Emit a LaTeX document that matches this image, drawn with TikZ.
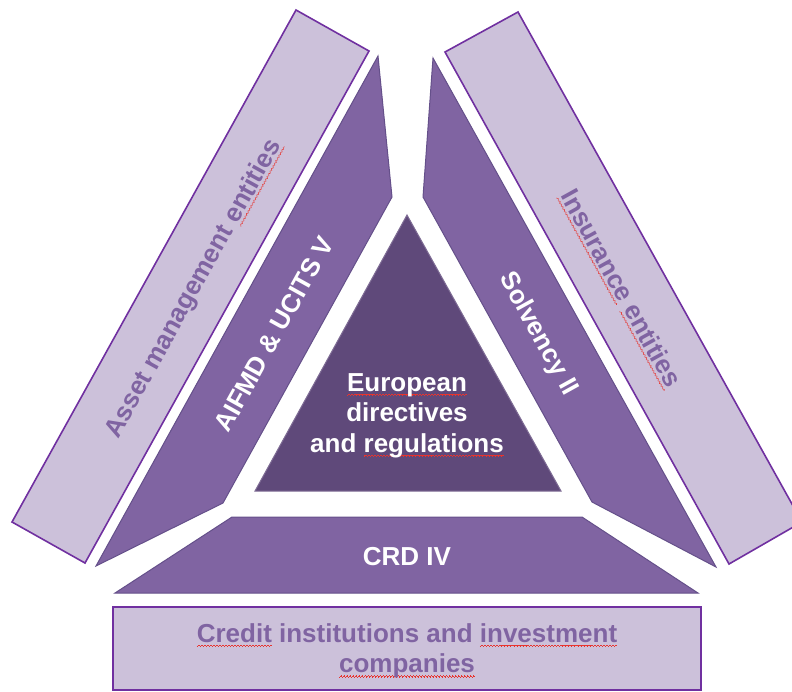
\documentclass[tikz,border=0pt]{standalone}
\usepackage{fontspec}
\setmainfont{Liberation Sans}

\definecolor{paleplum}{HTML}{CCC1DA}
\definecolor{plumline}{HTML}{7030A0}
\definecolor{midplum}{HTML}{8064A2}
\definecolor{midedge}{HTML}{65508A}
\definecolor{deepplum}{HTML}{5F497A}
\definecolor{plumtext}{HTML}{8064A2}
\definecolor{spellred}{HTML}{E8342E}

% red wavy underline for flagged words, built from small rules
\newcommand\wavecell{\hbox{%
  \rule[-4.2pt]{0.75pt}{0.6pt}\rule[-3.6pt]{0.75pt}{0.6pt}%
  \rule[-3.0pt]{0.75pt}{0.6pt}\rule[-3.6pt]{0.75pt}{0.6pt}}}
\newcommand\spell[1]{%
  \setbox0\hbox{#1}%
  \rlap{\hbox to\wd0{\color{spellred}\xleaders\wavecell\hfil}}%
  \box0\relax}

\tikzset{
  palebox/.style={fill=paleplum, draw=plumline, line width=1.6pt, line join=miter},
  midband/.style={fill=midplum, draw=midedge, line width=1pt, line join=miter},
  coretri/.style={fill=deepplum, draw=deepplum!80!white, line width=1pt, line join=miter},
  labelfont/.style={font=\fontsize{26}{30.5}\selectfont\bfseries, inner sep=0pt},
  whitetext/.style={labelfont, text=white},
  lighttext/.style={labelfont, text=plumtext},
}

\begin{document}
\begin{tikzpicture}[x=1pt, y=-1pt]
  \useasboundingbox (0,0) rectangle (792,691);

  % outer pale parallelograms and bottom box
  \draw[palebox] (296,10) -- (369,51) -- (85,563) -- (12,522) -- cycle;
  \draw[palebox] (518,12) -- (445,52) -- (729,564) -- (802,522) -- cycle;
  \draw[palebox] (113,607) rectangle (701,690);

  % middle bands
  \draw[midband] (378,56) -- (392,197) -- (223,503) -- (96,566) -- cycle;
  \draw[midband] (433,58) -- (423,197) -- (592,502) -- (716,567) -- cycle;
  \draw[midband] (232,517) -- (582,517) -- (698,593) -- (115,593) -- cycle;

  % central triangle
  \draw[coretri] (407,215) -- (561,491) -- (255,491) -- cycle;

  % labels
  \node[lighttext, rotate=61] (asset) at (194,289) {Asset management \spell{entities}};
  \node[whitetext, rotate=61] (aifmd) at (274,334) {AIFMD \& UCITS V};
  \node[whitetext, rotate=-61] (solvency) at (538,334) {Solvency II};
  \node[lighttext, rotate=-61] (insurance) at (620,289) {\spell{Insurance} \spell{entities}};
  \node[whitetext, align=center] (core) at (407,415.5) {\spell{European}\\directives\\and \spell{regulations}};
  \node[whitetext, anchor=base] (crd) at (407,565.5) {CRD IV};
  \node[lighttext, align=center] (credit) at (407,651) {\spell{Credit} institutions and \spell{investment}\\\spell{companies}};
\end{tikzpicture}
\end{document}
